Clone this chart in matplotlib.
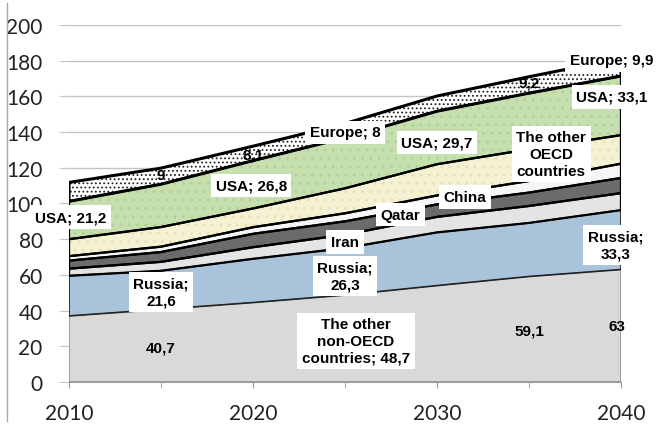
import numpy as np
import matplotlib.pyplot as plt
from matplotlib.lines import Line2D

plt.rcParams['hatch.linewidth'] = 0.8

years = [2010, 2015, 2020, 2025, 2030, 2035, 2040]
non_oecd = [37, 40.7, 44.5, 48.7, 54, 59.1, 63]
russia = [22.5, 21.6, 24.5, 26.3, 29.8, 30, 33.3]
iran = [4, 5, 6.5, 7.5, 8.7, 9.5, 9.5]
qatar = [4.5, 5.5, 7.5, 7.5, 7, 7.5, 8.5]
china = [2.5, 3, 3.7, 4.5, 5, 6.5, 8]
other_oecd = [9.5, 11, 10.5, 14, 17.5, 17.8, 16]
usa = [21.2, 24, 26.8, 28.3, 29.7, 31.4, 33.1]
europe = [10.6, 9, 8.1, 8, 8.5, 9.2, 9.9]

layers = [non_oecd, russia, iran, qatar, china, other_oecd, usa, europe]
colors = ['#d9d9d9', '#a9c3da', '#e4e4e4', '#6b6b6b',
          '#f6f6f6', '#f5f1d3', '#c6dfae', 'white']
edge_lw = [0.6, 1.2, 1.6, 1.6, 1.6, 1.6, 1.6, 2.2]
edge_col = ['#555555', '#222222', 'black', 'black', 'black', 'black', 'black', 'black']
dots = [None, None, None, None, None, '#e6dfb8', '#b2cf98', '#222222']
dot_hatch = [None, None, None, None, None, '..', '..', '....']

fig = plt.figure(figsize=(6.65, 4.31), dpi=100)
ax = fig.add_axes([0.1038, 0.1114, 0.83, 0.8283])

x = np.array(years)
bottom = np.zeros(len(years))
for i, vals in enumerate(layers):
    top = bottom + np.array(vals)
    ax.fill_between(x, bottom, top, facecolor=colors[i], edgecolor='none', zorder=2)
    if dots[i] is not None:
        ax.fill_between(x, bottom, top, facecolor='none', edgecolor=dots[i],
                        hatch=dot_hatch[i], linewidth=0, zorder=2)
    ax.fill_between(x, bottom, top, facecolor='none', edgecolor=edge_col[i],
                    linewidth=edge_lw[i], zorder=3)
    bottom = top

# data labels: (text, x, y, boxed)
labels = [
    ('USA; 21,2', 2010.1, 92.4, True),
    ('9', 2015, 116, False),
    ('8,1', 2020, 127.7, False),
    ('Europe; 8', 2025, 140, True),
    ('USA; 26,8', 2019.9, 110, True),
    ('9,2', 2035, 168, False),
    ('Europe; 9,9', 2039.5, 180.4, True),
    ('USA; 33,1', 2039.5, 159.7, True),
    ('USA; 29,7', 2030, 134.4, True),
    ('The other\nOECD\ncountries', 2036.2, 127.7, True),
    ('China', 2031.5, 103.6, True),
    ('Qatar', 2028.0, 93.6, True),
    ('Iran', 2025, 78.4, True),
    ('Russia;\n26,3', 2025, 59.4, True),
    ('The other\nnon-OECD\ncountries; 48,7', 2025.6, 23, True),
    ('Russia;\n21,6', 2015, 50.4, True),
    ('40,7', 2015, 19.6, False),
    ('59,1', 2035, 28.6, False),
    ('63', 2039.8, 31.4, False),
    ('Russia;\n33,3', 2039.7, 76.7, True),
]
for txt, lx, ly, boxed in labels:
    bb = dict(boxstyle='square,pad=0.3', facecolor='white', edgecolor='none') if boxed else None
    ax.text(lx, ly, txt, ha='center', va='center', fontsize=11, fontweight='bold',
            family='Liberation Sans', color='black', linespacing=1.25,
            bbox=bb, zorder=5)

ax.set_xlim(2010, 2040)
ax.set_ylim(0, 200)
ax.set_yticks(np.arange(0, 201, 20))
ax.set_xticks([2010, 2020, 2030, 2040])
ax.set_xticks([2015, 2025, 2035], minor=True)
ax.grid(axis='y', color='#c4c4c4', linewidth=1, zorder=0)
ax.set_axisbelow(True)
for s in ['top', 'right', 'left']:
    ax.spines[s].set_visible(False)
ax.spines['bottom'].set_color('#9a9a9a')
ax.tick_params(axis='y', length=7, color='#c4c4c4', pad=12, labelsize=15)
ax.tick_params(axis='x', which='both', length=4, color='#9a9a9a', pad=11, labelsize=15)
for lab in ax.get_xticklabels() + ax.get_yticklabels():
    lab.set_family('Lato')
    lab.set_color('#222222')

fig.add_artist(Line2D([0.011, 0.011], [0.02, 0.99], color='#aaaaaa', linewidth=1))

fig.savefig('out.png', dpi=100)
